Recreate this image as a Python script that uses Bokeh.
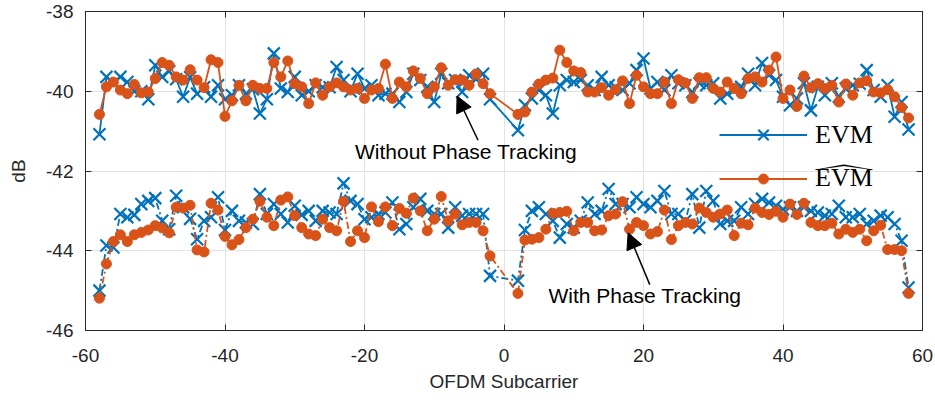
from bokeh.plotting import figure
from bokeh.models import (Range1d, LinearAxis, Legend, LegendItem, Label, Arrow,
                          NormalHead, FixedTicker, PolyAnnotation, ColumnDataSource)
from bokeh.embed import file_html
from bokeh.resources import INLINE

# ---------------- data ----------------
SUBCARRIERS = [*range(-58, -1), *range(2, 59)]

# Without phase tracking
EVM_NO_TRACK = [
    -41.08, -39.64, -39.80, -39.64, -39.77, -40.00, -40.00, -40.20, -39.35, -39.64,
    -39.50, -39.70, -40.14, -39.65, -40.06, -39.90, -40.14, -39.85, -40.20, -40.10,
    -39.85, -40.06, -39.95, -40.56, -40.20, -39.05, -39.93, -40.02, -39.64, -40.10,
    -40.00, -39.85, -39.90, -39.90, -39.39, -39.72, -40.00, -39.56, -39.93, -39.85,
    -40.10, -40.06, -40.06, -40.27, -40.02, -39.56, -39.72, -39.89, -40.27, -39.56,
    -39.80, -39.72, -40.02, -39.60, -39.70, -39.56, -40.20,
    -40.98, -40.35, -40.18, -39.97, -40.10, -40.56, -39.85, -39.72, -39.77, -39.72,
    -39.85, -39.97, -39.64, -39.85, -39.90, -39.97, -39.80, -39.47, -39.18, -39.93,
    -39.77, -39.97, -39.60, -39.80, -39.85, -40.02, -39.80, -39.85, -39.80, -40.18,
    -40.06, -39.97, -39.89, -39.56, -39.85, -39.29, -39.60, -39.72, -40.14, -40.35,
    -40.18, -39.80, -40.48, -39.89, -40.10, -39.80, -40.14, -39.93, -39.85, -39.81,
    -39.47, -39.97, -40.14, -39.85, -40.64, -40.27, -40.96,
]
EVMHAT_NO_TRACK = [
    -40.58, -39.89, -39.77, -39.97, -40.06, -39.83, -40.04, -40.02, -39.68, -39.28,
    -39.35, -39.64, -39.72, -39.46, -39.72, -39.91, -39.21, -39.28, -40.63, -40.24,
    -39.85, -40.24, -39.85, -39.93, -39.93, -39.28, -39.64, -39.24, -39.81, -39.89,
    -40.31, -39.79, -40.10, -39.89, -39.79, -39.89, -39.97, -39.93, -40.18, -39.97,
    -39.93, -39.32, -40.18, -39.77, -39.89, -39.49, -39.68, -40.06, -39.89, -39.41,
    -39.85, -39.71, -39.72, -39.85, -39.57, -39.81, -40.06,
    -40.58, -40.52, -40.02, -39.82, -39.72, -39.67, -38.97, -39.28, -39.49, -39.53,
    -40.02, -40.02, -39.91, -40.10, -39.96, -39.74, -40.31, -39.60, -39.89, -40.06,
    -40.06, -39.77, -40.31, -39.71, -39.79, -40.18, -39.66, -39.66, -39.93, -40.02,
    -39.77, -39.93, -40.06, -39.68, -39.64, -39.77, -39.47, -39.14, -40.18, -39.97,
    -40.38, -39.62, -39.91, -39.81, -39.93, -39.85, -40.27, -39.82, -40.10, -39.79,
    -39.74, -40.02, -40.04, -39.96, -40.14, -40.41, -40.67,
]
# With phase tracking
EVM_TRACK = [
    -45.00, -43.87, -43.92, -43.08, -43.16, -43.10, -42.83, -42.75, -42.68, -43.25,
    -43.46, -42.62, -42.91, -43.20, -43.71, -43.25, -43.16, -42.66, -43.48, -43.00,
    -43.25, -43.29, -43.33, -42.58, -43.08, -42.83, -43.08, -43.29, -42.87, -43.10,
    -43.00, -43.25, -43.00, -43.04, -43.08, -42.31, -42.75, -42.83, -43.21, -43.16,
    -43.08, -43.04, -42.79, -43.46, -43.33, -42.91, -42.70, -43.00, -43.08, -43.08,
    -43.42, -42.91, -43.12, -43.08, -43.08, -43.08, -44.63,
    -44.75, -43.48, -43.00, -42.91, -43.08, -43.25, -43.67, -43.33, -43.42, -43.25,
    -42.79, -43.08, -43.00, -42.45, -42.83, -42.83, -42.91, -42.66, -42.83, -42.91,
    -42.75, -42.50, -43.08, -43.08, -43.25, -42.58, -43.42, -42.50, -42.75, -43.33,
    -43.25, -43.25, -42.91, -43.08, -42.83, -42.70, -42.79, -42.87, -42.96, -42.91,
    -43.00, -42.91, -43.00, -43.04, -43.12, -43.08, -42.87, -43.16, -43.16, -43.08,
    -43.33, -43.25, -43.12, -43.16, -43.33, -43.75, -44.92,
]
EVMHAT_TRACK = [
    -45.19, -44.33, -43.77, -43.60, -43.77, -43.60, -43.54, -43.48, -43.37, -43.43,
    -43.55, -42.91, -42.93, -42.86, -43.98, -44.03, -42.81, -42.98, -43.64, -43.85,
    -43.72, -43.42, -43.21, -42.76, -43.16, -43.37, -42.73, -42.65, -43.12, -43.42,
    -43.58, -43.62, -43.21, -43.42, -43.50, -42.76, -43.77, -43.50, -43.67, -42.90,
    -43.27, -42.90, -43.37, -42.94, -43.06, -42.68, -43.00, -43.50, -43.21, -42.64,
    -43.25, -43.08, -43.35, -43.29, -43.29, -43.50, -44.13,
    -45.07, -43.73, -43.71, -43.67, -43.46, -43.06, -43.04, -43.01, -43.50, -43.29,
    -43.29, -43.50, -43.48, -43.12, -43.08, -42.77, -43.46, -43.29, -43.37, -43.58,
    -43.52, -42.98, -43.72, -43.37, -43.29, -43.33, -42.93, -43.04, -43.16, -43.08,
    -42.98, -43.62, -43.31, -43.35, -42.93, -43.04, -43.09, -43.01, -43.16, -42.83,
    -43.09, -42.81, -43.29, -43.37, -43.37, -43.31, -43.58, -43.46, -43.54, -43.46,
    -43.75, -43.50, -43.36, -43.97, -43.97, -44.00, -45.07,
]

X_TICKS = [-60, -40, -20, 0, 20, 40, 60]
Y_TICKS = [-46, -44, -42, -40, -38]
X_TICK_LABELS = ["-60", "-40", "-20", "0", "20", "40", "60"]
Y_TICK_LABELS = ["-46", "-44", "-42", "-40", "-38"]
LEGEND_LABELS = ["EVM", "EVM"]

# ---------------- style ----------------
BLUE = "#0072BD"
ORANGE = "#D95319"
DARK = "#262626"
GRID = "#E3E3E3"
SANS = "Liberation Sans"
SERIF = "Liberation Serif"

p = figure(width=935, height=400, x_range=Range1d(-60, 60), y_range=Range1d(-46, -38),
           output_backend="svg", toolbar_location=None,
           min_border_left=85, min_border_right=13, min_border_top=11, min_border_bottom=70,
           background_fill_color="white", border_fill_color="white")

p.outline_line_color = DARK
p.outline_line_width = 1

p.xaxis.ticker = FixedTicker(ticks=X_TICKS)
p.yaxis.ticker = FixedTicker(ticks=Y_TICKS)
p.xaxis.major_label_overrides = dict(zip(X_TICKS, X_TICK_LABELS))
p.yaxis.major_label_overrides = dict(zip(Y_TICKS, Y_TICK_LABELS))
p.xgrid.ticker = FixedTicker(ticks=X_TICKS)
p.ygrid.ticker = FixedTicker(ticks=Y_TICKS)
p.grid.grid_line_color = GRID
p.grid.grid_line_width = 1

for ax in (p.xaxis[0], p.yaxis[0]):
    ax.major_tick_in = 6
    ax.major_tick_out = 0
    ax.minor_tick_line_color = None
    ax.axis_line_color = DARK
    ax.major_tick_line_color = DARK
    ax.major_label_text_font = SANS
    ax.major_label_text_font_size = "19px"
    ax.major_label_text_color = DARK
    ax.axis_label_text_font = SANS
    ax.axis_label_text_font_size = "19px"
    ax.axis_label_text_font_style = "normal"
    ax.axis_label_text_color = DARK

p.xaxis.axis_label = "OFDM Subcarrier"
p.yaxis.axis_label = "dB"
p.xaxis.major_label_standoff = 18
p.xaxis.axis_label_standoff = 6
p.yaxis.major_label_standoff = 12
p.yaxis.axis_label_standoff = 14

for side, ticks in (("right", Y_TICKS), ("above", X_TICKS)):
    ax = LinearAxis(ticker=FixedTicker(ticks=ticks),
                    major_label_overrides={t: "" for t in ticks},
                    major_tick_in=6, major_tick_out=0, major_label_standoff=0,
                    minor_tick_line_color=None, axis_line_color=DARK,
                    major_tick_line_color=DARK)
    p.add_layout(ax, side)

src = ColumnDataSource(dict(x=SUBCARRIERS, evm_nt=EVM_NO_TRACK, hat_nt=EVMHAT_NO_TRACK,
                            evm_t=EVM_TRACK, hat_t=EVMHAT_TRACK))

LW = 1.8
DASHDOT = "7 3 2 3"
XSIZE = 17
XLW = 2.2
DOT = 10

ub_line = p.line("x", "evm_nt", source=src, line_color=BLUE, line_width=LW)
ub_pts = p.scatter("x", "evm_nt", source=src, marker="x", size=XSIZE, line_color=BLUE, line_width=XLW)
uo_line = p.line("x", "hat_nt", source=src, line_color=ORANGE, line_width=LW)
uo_pts = p.scatter("x", "hat_nt", source=src, marker="circle", size=DOT,
                   fill_color=ORANGE, line_color=ORANGE)
lb_line = p.line("x", "evm_t", source=src, line_color=BLUE, line_width=LW, line_dash=DASHDOT)
lb_pts = p.scatter("x", "evm_t", source=src, marker="x", size=XSIZE, line_color=BLUE, line_width=XLW)
lo_line = p.line("x", "hat_t", source=src, line_color=ORANGE, line_width=LW, line_dash=DASHDOT)
lo_pts = p.scatter("x", "hat_t", source=src, marker="circle", size=DOT,
                   fill_color=ORANGE, line_color=ORANGE)

LEG_STYLE = dict(orientation="vertical", glyph_width=88, label_standoff=8,
                 spacing=0, padding=0, margin=0,
                 background_fill_alpha=0, border_line_color=None,
                 label_text_font=SERIF, label_text_font_size="26px", label_text_color="black")
legend1 = Legend(items=[LegendItem(label=LEGEND_LABELS[0], renderers=[ub_line, ub_pts])],
                 location=(634, 177), glyph_height=37, label_height=37, **LEG_STYLE)
legend2 = Legend(items=[LegendItem(label=LEGEND_LABELS[1], renderers=[uo_line, uo_pts])],
                 location=(634, 137), glyph_height=25, label_height=25, **LEG_STYLE)
p.add_layout(legend1)
p.add_layout(legend2)

# wide hat over second legend label
HAT_X0, HAT_X1, HAT_Y, HAT_RISE, HAT_T, HAT_D = 44.56, 52.9, -41.97, 0.13, 0.035, 0.3
hx = [HAT_X0, (HAT_X0 + HAT_X1) / 2, HAT_X1, HAT_X1 - HAT_D, (HAT_X0 + HAT_X1) / 2, HAT_X0 + HAT_D]
hy = [HAT_Y, HAT_Y + HAT_RISE, HAT_Y, HAT_Y, HAT_Y + HAT_RISE - HAT_T, HAT_Y]
p.add_layout(PolyAnnotation(xs=hx, ys=hy, fill_color="black", fill_alpha=1,
                            line_color="black", line_width=0.5))

# annotations
p.add_layout(Label(x=-5.44, y=-41.51, text="Without Phase Tracking", text_align="center",
                   text_baseline="middle", text_font=SANS, text_font_size="21px",
                   text_color="black"))
p.add_layout(Label(x=20.2, y=-45.12, text="With Phase Tracking", text_align="center",
                   text_baseline="middle", text_font=SANS, text_font_size="21px",
                   text_color="black"))
p.add_layout(Arrow(end=NormalHead(size=16, fill_color="black", line_color="black"),
                   x_start=-3.72, y_start=-41.23, x_end=-6.73, y_end=-40.12,
                   line_color="black", line_width=1.5))
p.add_layout(Arrow(end=NormalHead(size=16, fill_color="black", line_color="black"),
                   x_start=20.9, y_start=-44.85, x_end=17.8, y_end=-43.55,
                   line_color="black", line_width=1.5))

open("out.html", "w").write(file_html(p, INLINE))
